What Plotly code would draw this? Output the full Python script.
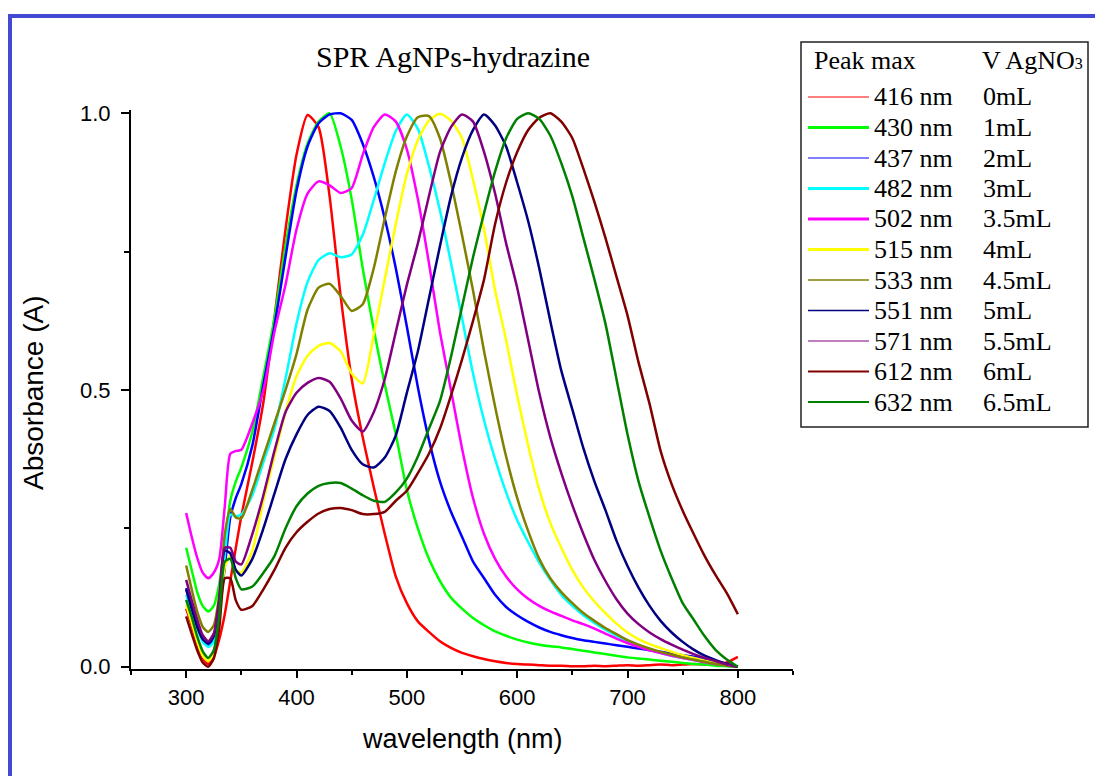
import plotly.graph_objects as go

# ---------------- data ----------------
WAVELENGTH = [300, 305, 310, 315, 320, 325, 330, 335, 340, 345, 350,
              360, 370, 380, 390, 400, 410, 420, 430, 440, 450,
              460, 470, 480, 490, 500, 510, 520, 530, 540, 550,
              560, 570, 580, 590, 600, 610, 620, 630, 640, 650,
              660, 670, 680, 690, 700, 710, 720, 730, 740, 750,
              760, 770, 780, 790, 800]

A_0mL = [0.105, 0.075, 0.042, 0.016, 0.005, 0.018, 0.05, 0.095, 0.155, 0.215, 0.272,
         0.37, 0.478, 0.63, 0.79, 0.925, 0.997, 0.975, 0.85, 0.67, 0.52,
         0.415, 0.325, 0.24, 0.163, 0.115, 0.082, 0.063, 0.046, 0.034, 0.025,
         0.019, 0.014, 0.01, 0.007, 0.005, 0.004, 0.003, 0.002, 0.002, 0.001,
         0.001, 0.002, 0.001, 0.002, 0.003, 0.002, 0.003, 0.004, 0.003, 0.004,
         0.005, 0.004, 0.006, 0.008, 0.018]

A_1mL = [0.215, 0.175, 0.135, 0.11, 0.1, 0.11, 0.15, 0.225, 0.3, 0.335, 0.36,
         0.425, 0.525, 0.63, 0.76, 0.87, 0.945, 0.985, 1.0, 0.94, 0.845,
         0.72, 0.61, 0.51, 0.42, 0.32, 0.25, 0.195, 0.155, 0.125, 0.105,
         0.088, 0.075, 0.064, 0.056, 0.049, 0.044, 0.04, 0.037, 0.035, 0.032,
         0.029, 0.026, 0.023, 0.02, 0.017, 0.015, 0.013, 0.011, 0.009, 0.007,
         0.005, 0.004, 0.002, 0.001, 0.0]

A_2mL = [0.142, 0.11, 0.076, 0.05, 0.04, 0.05, 0.1, 0.18, 0.27, 0.305, 0.33,
         0.4, 0.51, 0.615, 0.74, 0.86, 0.94, 0.982, 0.998, 1.0, 0.988,
         0.945, 0.885, 0.81, 0.72, 0.615, 0.505, 0.41, 0.335, 0.28, 0.235,
         0.19, 0.16, 0.13, 0.108, 0.093, 0.081, 0.071, 0.063, 0.057, 0.052,
         0.048, 0.045, 0.042, 0.039, 0.036, 0.033, 0.03, 0.027, 0.024, 0.021,
         0.018, 0.014, 0.01, 0.005, 0.0]

A_3mL = [0.13, 0.1, 0.07, 0.045, 0.036, 0.045, 0.1, 0.2, 0.275, 0.272, 0.275,
         0.31, 0.37, 0.43, 0.52, 0.62, 0.695, 0.735, 0.747, 0.74, 0.745,
         0.78, 0.843, 0.91, 0.968, 0.998, 0.972, 0.905, 0.825, 0.73, 0.63,
         0.53, 0.445, 0.375, 0.315, 0.265, 0.225, 0.188, 0.157, 0.13, 0.11,
         0.093, 0.079, 0.067, 0.056, 0.046, 0.038, 0.031, 0.025, 0.02, 0.016,
         0.012, 0.008, 0.005, 0.002, 0.0]

A_3p5mL = [0.278, 0.235, 0.197, 0.17, 0.16, 0.17, 0.195, 0.29, 0.385, 0.39, 0.392,
           0.44, 0.5, 0.605, 0.69, 0.79, 0.855, 0.877, 0.87, 0.856, 0.865,
           0.925, 0.975, 0.998, 0.985, 0.935, 0.845, 0.73, 0.605, 0.5, 0.395,
           0.305, 0.24, 0.195, 0.163, 0.14, 0.123, 0.11, 0.1, 0.092, 0.084,
           0.077, 0.069, 0.06, 0.051, 0.043, 0.036, 0.03, 0.025, 0.02, 0.016,
           0.012, 0.008, 0.005, 0.003, 0.0]

A_4mL = [0.112, 0.08, 0.046, 0.02, 0.01, 0.025, 0.08, 0.18, 0.2, 0.175, 0.17,
         0.21, 0.3, 0.38, 0.46, 0.525, 0.562, 0.58, 0.585, 0.57, 0.53,
         0.512, 0.6, 0.7, 0.8, 0.89, 0.952, 0.987, 0.999, 0.987, 0.955,
         0.88, 0.79, 0.68, 0.59, 0.49, 0.4, 0.32, 0.26, 0.215, 0.175,
         0.143, 0.118, 0.097, 0.078, 0.062, 0.05, 0.041, 0.034, 0.027, 0.021,
         0.016, 0.011, 0.007, 0.003, 0.0]

A_4p5mL = [0.183, 0.14, 0.1, 0.072, 0.063, 0.075, 0.13, 0.24, 0.285, 0.27, 0.268,
           0.32, 0.38, 0.44, 0.5, 0.565, 0.645, 0.685, 0.692, 0.67, 0.643,
           0.655, 0.72, 0.81, 0.895, 0.958, 0.993, 0.995, 0.955, 0.875, 0.78,
           0.68, 0.57, 0.47, 0.38, 0.305, 0.245, 0.195, 0.16, 0.135, 0.115,
           0.097, 0.083, 0.07, 0.059, 0.048, 0.04, 0.033, 0.027, 0.022, 0.017,
           0.013, 0.009, 0.005, 0.002, 0.0]

A_5mL = [0.14, 0.105, 0.072, 0.05, 0.042, 0.055, 0.12, 0.21, 0.205, 0.175, 0.165,
         0.195, 0.25, 0.313, 0.375, 0.42, 0.455, 0.47, 0.462, 0.432, 0.392,
         0.366, 0.36, 0.378, 0.418, 0.495, 0.57, 0.665, 0.76, 0.85, 0.92,
         0.97, 0.998, 0.978, 0.94, 0.875, 0.805, 0.72, 0.625, 0.535, 0.465,
         0.395, 0.335, 0.283, 0.228, 0.182, 0.143, 0.11, 0.083, 0.062, 0.045,
         0.031, 0.02, 0.012, 0.005, 0.0]

A_5p5mL = [0.157, 0.12, 0.085, 0.057, 0.046, 0.06, 0.12, 0.215, 0.215, 0.19, 0.185,
           0.24, 0.31, 0.39, 0.46, 0.495, 0.513, 0.522, 0.515, 0.485, 0.445,
           0.425, 0.46, 0.52, 0.605, 0.69, 0.765, 0.85, 0.93, 0.975, 0.998,
           0.985, 0.93, 0.855, 0.765, 0.685, 0.59, 0.495, 0.415, 0.35, 0.292,
           0.24, 0.193, 0.155, 0.122, 0.096, 0.077, 0.062, 0.05, 0.04, 0.031,
           0.023, 0.016, 0.01, 0.004, 0.0]

A_6mL = [0.091, 0.06, 0.03, 0.008, 0.0, 0.015, 0.07, 0.16, 0.16, 0.12, 0.103,
         0.11, 0.14, 0.175, 0.215, 0.243, 0.262, 0.277, 0.285, 0.287, 0.283,
         0.276, 0.276, 0.28, 0.3, 0.318, 0.35, 0.385, 0.43, 0.49, 0.555,
         0.625, 0.7, 0.8, 0.875, 0.93, 0.97, 0.992, 1.0, 0.985, 0.955,
         0.9, 0.84, 0.775, 0.705, 0.635, 0.55, 0.475, 0.39, 0.33, 0.282,
         0.24, 0.2, 0.165, 0.133, 0.095]

A_6p5mL = [0.121, 0.09, 0.055, 0.028, 0.016, 0.03, 0.09, 0.19, 0.195, 0.16, 0.14,
           0.145, 0.17, 0.2, 0.25, 0.29, 0.313, 0.327, 0.332, 0.332, 0.322,
           0.31, 0.3, 0.298, 0.315, 0.34, 0.38, 0.43, 0.48, 0.56, 0.65,
           0.74, 0.82, 0.895, 0.955, 0.99, 1.0, 0.99, 0.96, 0.91, 0.85,
           0.775, 0.7, 0.62, 0.52, 0.42, 0.335, 0.27, 0.21, 0.16, 0.115,
           0.085, 0.055, 0.03, 0.013, 0.0]

PEAK_LABELS = ["416 nm", "430 nm", "437 nm", "482 nm", "502 nm", "515 nm",
               "533 nm", "551 nm", "571 nm", "612 nm", "632 nm"]
VOLUME_LABELS = ["0mL", "1mL", "2mL", "3mL", "3.5mL", "4mL",
                 "4.5mL", "5mL", "5.5mL", "6mL", "6.5mL"]
COLORS = ["#ff0000", "#00ff00", "#0000ff", "#00ffff", "#ff00ff", "#ffff00",
          "#808000", "#000080", "#800080", "#800000", "#008000"]
LEGEND_SAMPLE_WIDTHS = [1.2, 3, 1.2, 3, 3, 3, 1.5, 1.5, 1.2, 2, 2]

SERIES = [A_0mL, A_1mL, A_2mL, A_3mL, A_3p5mL, A_4mL,
          A_4p5mL, A_5mL, A_5p5mL, A_6mL, A_6p5mL]

X_TICKS = [300, 400, 500, 600, 700, 800]
X_MINOR = [250, 350, 450, 550, 650, 750, 850]
Y_TICKS = [0.0, 0.5, 1.0]
Y_TICKTEXT = ["0.0", "0.5", "1.0"]
Y_MINOR = [0.25, 0.75]

# ---------------- layout geometry ----------------
W, H = 1095, 776
ML, MR, MT, MB = 131, 302, 110, 107
PW, PH = W - ML - MR, H - MT - MB


def pxx(x):
    return (x - ML) / PW


def pxy(y):
    return (H - MB - y) / PH


SERIF = "Liberation Serif, Times New Roman, serif"
SANS = "Liberation Sans, Arial, sans-serif"

fig = go.Figure()
for vals, color, pk, vol in zip(SERIES, COLORS, PEAK_LABELS, VOLUME_LABELS):
    fig.add_trace(go.Scatter(
        x=WAVELENGTH, y=vals, mode="lines", name=f"{pk} {vol}",
        line=dict(color=color, width=2.5, shape="spline", smoothing=0.6),
        showlegend=False, hoverinfo="x+y+name"))

shapes = []
annotations = []


def label(text, x, y, size, family, anchor="left", angle=0):
    annotations.append(dict(text=text, x=pxx(x), y=pxy(y), xref="paper", yref="paper",
                            xanchor=anchor, yanchor="middle", showarrow=False,
                            textangle=angle,
                            font=dict(family=family, size=size, color="black")))


# outer blue frame
shapes.append(dict(type="rect", xref="paper", yref="paper",
                   x0=pxx(10), x1=pxx(1120), y0=pxy(800), y1=pxy(16),
                   line=dict(color="#4449d2", width=4), fillcolor="rgba(0,0,0,0)",
                   layer="above"))

# legend box
LEG_L, LEG_R, LEG_T, LEG_B = 801, 1088, 42, 427
shapes.append(dict(type="rect", xref="paper", yref="paper",
                   x0=pxx(LEG_L), x1=pxx(LEG_R), y0=pxy(LEG_B), y1=pxy(LEG_T),
                   line=dict(color="#222222", width=1.5), fillcolor="white"))
label("Peak max", 812, 60, 26, SERIF)
label("V AgNO<span style='font-size:16px'>3</span>", 980, 60, 26, SERIF)

ROW0, ROWSTEP = 97, 30.5
for i, (color, pk, vol, lw) in enumerate(zip(COLORS, PEAK_LABELS, VOLUME_LABELS, LEGEND_SAMPLE_WIDTHS)):
    yy = ROW0 + i * ROWSTEP
    shapes.append(dict(type="line", xref="paper", yref="paper",
                       x0=pxx(808), x1=pxx(869), y0=pxy(yy), y1=pxy(yy),
                       line=dict(color=color, width=lw)))
    label(pk, 872, yy, 26, SERIF)
    label(vol, 981, yy, 26, SERIF)

# title and axis titles
label("SPR AgNPs-hydrazine", 453, 57, 30, SERIF, anchor="center")
label("wavelength (nm)", 462, 739, 27, SANS, anchor="center")
label("Absorbance (A)", 33, 393, 28, SANS, anchor="center", angle=-90)

fig.update_layout(
    width=W, height=H,
    margin=dict(l=ML, r=MR, t=MT, b=MB, autoexpand=False),
    paper_bgcolor="white", plot_bgcolor="white",
    showlegend=False,
    shapes=shapes, annotations=annotations,
    xaxis=dict(range=[250, 850], showline=True, linecolor="black", linewidth=2,
               ticks="outside", ticklen=7, tickwidth=2, tickcolor="black",
               tickvals=X_TICKS, ticktext=[str(v) for v in X_TICKS],
               showgrid=False, zeroline=False, ticklabelstandoff=1,
               tickfont=dict(family=SANS, size=22, color="black"),
               minor=dict(tickvals=X_MINOR, ticks="outside", ticklen=4, tickwidth=2,
                          tickcolor="black", showgrid=False)),
    yaxis=dict(range=[-0.004, 1.006], showline=True, linecolor="black", linewidth=2,
               ticks="outside", ticklen=8, tickwidth=2, tickcolor="black",
               tickvals=Y_TICKS, ticktext=Y_TICKTEXT,
               showgrid=False, zeroline=False, ticklabelstandoff=6,
               tickfont=dict(family=SANS, size=22, color="black"),
               minor=dict(tickvals=Y_MINOR, ticks="outside", ticklen=5, tickwidth=2,
                          tickcolor="black", showgrid=False)),
)

fig.write_html("out.html")
